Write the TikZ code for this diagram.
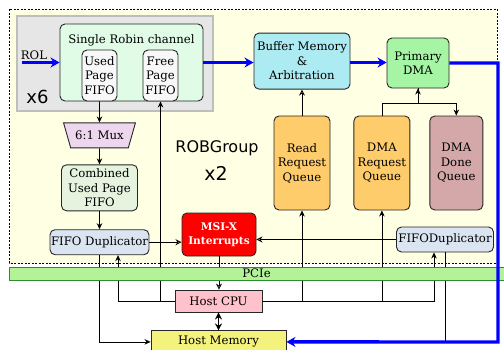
\documentclass[tikz,border=0pt]{standalone}
\usepackage{fontspec}
\setmainfont{DejaVu Serif}
\setsansfont{DejaVu Sans}
\usepackage{tikz}
\usetikzlibrary{positioning,shapes.geometric,arrows.meta}

\definecolor{robbg}{HTML}{FFFFE3}
\definecolor{chanfill}{HTML}{E6E6E6}
\definecolor{chandraw}{HTML}{BEBEBE}
\definecolor{robinfill}{HTML}{E0FCE6}
\definecolor{fifofill}{HTML}{F8F8F8}
\definecolor{muxfill}{HTML}{EED7EE}
\definecolor{combfill}{HTML}{E6F4DF}
\definecolor{dupfill}{HTML}{DAE5F1}
\definecolor{buffill}{HTML}{ADEBF2}
\definecolor{dmafill}{HTML}{A5F5A5}
\definecolor{queuefill}{HTML}{FFCC6B}
\definecolor{donefill}{HTML}{D4A8A8}
\definecolor{pciefill}{HTML}{B3F296}
\definecolor{pciedraw}{HTML}{2E8B2E}
\definecolor{cpufill}{HTML}{FFC1CC}
\definecolor{memfill}{HTML}{F2F27C}

\tikzset{
  box/.style={draw=black!85, line width=0.9pt, rounded corners=5pt, align=center,
    inner sep=1pt, font=\fontsize{11.7}{14.5}\selectfont},
  fifo/.style={box, fill=fifofill, minimum width=35, minimum height=51},
  queue/.style={box, fill=queuefill, minimum width=56, minimum height=94},
  dup/.style={box, fill=dupfill, minimum width=97, minimum height=25},
  host/.style={box, rounded corners=0pt, minimum height=22},
  flow/.style={line width=0.8pt, -{Stealth[length=6pt,width=5.5pt]}},
  openflow/.style={line width=0.8pt, -{Stealth[open,length=6pt,width=6pt]}},
  blueflow/.style={draw=blue, line width=2.6pt, -{Stealth[length=9pt,width=10pt]}},
  big/.style={font=\sffamily\fontsize{16}{19}\selectfont}
}

\begin{document}
\begin{tikzpicture}[x=1pt,y=1pt]
      \useasboundingbox (0,0) rectangle (504,-349);
      % ROBGroup and channel backgrounds
      \draw[fill=robbg, line width=0.8pt, dash pattern=on 2pt off 1.5pt] (9,-9) rectangle (497,-263);
      \draw[fill=chanfill, draw=chandraw, line width=2pt] (17,-16) rectangle (213,-111);
      \node[big, font=\sffamily\fontsize{18}{20}\selectfont] (xsix) at (37.5,-97) {x6};
      \node[big] (robgroup) at (217,-148) {ROBGroup};
      \node[big, font=\sffamily\fontsize{19}{22}\selectfont] (xtwo) at (216,-173) {x2};
      % Define nodes
      \node[box, fill=robinfill, minimum width=143, minimum height=77] (robin) at (131.5,-62.5) {};
      \node[font=\fontsize{11.7}{14.5}\selectfont] (robintitle) at (131.5,-40.5) {Single Robin channel};
      \node[fifo]                 (usedfifo) at (99.5,-75.5) {Used\\Page\\FIFO};
      \node[fifo]                 (freefifo) at (160.5,-75.5) {Free\\Page\\FIFO};
      \node[font=\fontsize{11.7}{14.5}\selectfont] (rol) at (34,-55.5) {ROL};
      \coordinate (rolin) at (22,-62.5);
      \node[box, trapezium, trapezium stretches=true, shape border rotate=180, rounded corners=0pt,
            fill=muxfill, minimum width=72, minimum height=25, below=21pt of usedfifo] (mux) {6:1 Mux};
      \node[box, fill=combfill, minimum width=76, minimum height=46, below=16pt of mux] (combined) {Combined\\Used Page\\FIFO};
      \node[dup, below=18pt of combined] (dupleft) {FIFO Duplicator};
      \node[box, fill=red, text=white, minimum width=74, minimum height=43,
            font=\bfseries\fontsize{10.6}{14}\selectfont] (msix) at (219,-234.5) {MSI-X\\Interrupts};
      \node[queue]                      (readq)   at (302,-163) {Read\\Request\\Queue};
      \node[queue, right=23pt of readq] (dmareq)  {DMA\\Request\\Queue};
      \node[queue, fill=donefill, minimum width=53, right=19pt of dmareq] (dmadone) {DMA\\Done\\Queue};
      \node[box, fill=buffill, minimum width=96, minimum height=56, above=26pt of readq] (bufmem) {Buffer Memory\\\&\\Arbitration};
      \node[box, fill=dmafill, minimum width=62, minimum height=50] (dma) at (418,-63) {Primary\\DMA};
      \node[dup] (dupright) at (445,-239.5) {FIFODuplicator};
      \node[host, fill=cpufill, minimum width=87] (hostcpu) at (218.5,-301) {Host CPU};
      \node[host, fill=memfill, minimum width=135, below=18pt of hostcpu] (hostmem) {Host Memory};
      \coordinate (cpuleft)  at (118,-301);
      \coordinate (cpuright) at (434,-301);
      \coordinate (dmajoin)  at (418,-103);
      \coordinate (bluecorner) at (498,-342);
      % Connect nodes
      \draw[flow] (usedfifo) -- (mux);
      \draw[flow] (mux) -- (combined);
      \draw[flow] (combined) -- (dupleft);
      \draw[openflow] (dupleft.east) -- (msix.west |- dupleft.east);
      \draw[openflow] (dupright.west) -- (msix.east |- dupright.west);
      \draw[openflow] (msix.south) -- (msix.south |- hostcpu.north);
      \draw[line width=1.3pt, {Stealth[open,length=7pt,width=7pt]}-{Stealth[open,length=7pt,width=7pt]}] (hostcpu) -- (hostmem);
      \draw[flow] (hostcpu.west) -- (cpuleft) -- (cpuleft |- dupleft.south);
      \draw[flow] (hostcpu.west -| freefifo.south) -- (freefifo.south);
      \draw[flow] (hostcpu.east) -- (cpuright) -- (cpuright |- dupright.south);
      \draw[flow] (hostcpu.east -| readq.south) -- (readq.south);
      \draw[flow] (hostcpu.east -| dmareq.south) -- (dmareq.south);
      \draw[openflow] (readq) -- (bufmem);
      \draw[flow] (dmareq.north) |- (dmajoin) -- (dma.south);
      \draw[flow] (dma.south) -- (dmajoin) -| (dmadone.north);
      \draw[flow] (dupleft.south) |- (hostmem.west);
      \draw[line width=0.8pt] (dupright.south) -- (dupright.south |- bluecorner);
      % PCIe bus
      \node[draw=pciedraw, fill=pciefill, line width=0.9pt, minimum width=495, minimum height=13,
            inner sep=0pt, font=\fontsize{11.7}{14.5}\selectfont] (pcie) at (256.5,-273.5) {PCIe};
      % Data path
      \draw[blueflow, line width=2.4pt] (rolin) -- (robin.west);
      \draw[blueflow, line width=2.4pt] (robin.east) -- (robin.east -| bufmem.west);
      \draw[blueflow, line width=3.4pt] (bufmem.east |- robin.east) -- (robin.east -| dma.west);
      \draw[blueflow, line width=3.4pt] (dma.east) -| (bluecorner) -- (hostmem.east);
    \end{tikzpicture}
\end{document}
